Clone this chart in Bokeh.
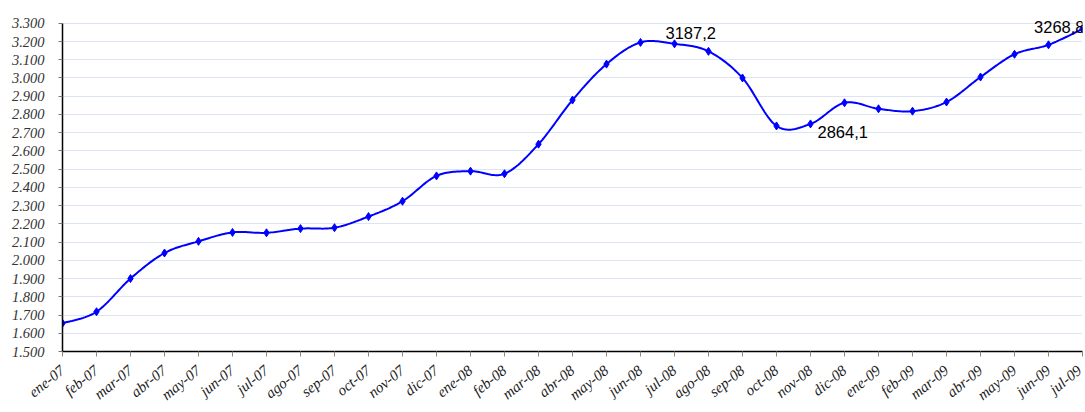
import numpy as np
from bokeh.plotting import figure
from bokeh.models import Range1d, FixedTicker, ColumnDataSource
from bokeh.core.properties import value
from bokeh.embed import file_html
from bokeh.resources import INLINE

months = ["ene-07", "feb-07", "mar-07", "abr-07", "may-07", "jun-07", "jul-07",
          "ago-07", "sep-07", "oct-07", "nov-07", "dic-07",
          "ene-08", "feb-08", "mar-08", "abr-08", "may-08", "jun-08", "jul-08",
          "ago-08", "sep-08", "oct-08", "nov-08", "dic-08",
          "ene-09", "feb-09", "mar-09", "abr-09", "may-09", "jun-09", "jul-09"]
values = [1655, 1718, 1900, 2040, 2104, 2153, 2151, 2174, 2179, 2240, 2324, 2463,
          2489, 2475, 2637, 2879, 3076, 3195, 3187.2, 3146, 3000, 2737, 2748, 2864.1,
          2831, 2818, 2868, 3005, 3130, 3182, 3268.8]
y_ticks = list(range(1500, 3301, 100))
y_tick_labels = ["1.500", "1.600", "1.700", "1.800", "1.900", "2.000", "2.100",
                 "2.200", "2.300", "2.400", "2.500", "2.600", "2.700", "2.800",
                 "2.900", "3.000", "3.100", "3.200", "3.300"]
label_idx = [18, 23, 30]
label_text = ["3187,2", "2864,1", "3268,8"]

xs = np.arange(len(values), dtype=float)
ys = np.array(values, dtype=float)

# Smoothed (Catmull-Rom / Bezier) curve through the data points
def smooth(x, y, n=20):
    px, py = [], []
    N = len(x)
    for i in range(N - 1):
        x0, y0 = (x[i - 1], y[i - 1]) if i > 0 else (x[i], y[i])
        x1, y1 = x[i], y[i]
        x2, y2 = x[i + 1], y[i + 1]
        x3, y3 = (x[i + 2], y[i + 2]) if i + 2 < N else (x[i + 1], y[i + 1])
        c1x, c1y = x1 + (x2 - x0) / 6, y1 + (y2 - y0) / 6
        c2x, c2y = x2 - (x3 - x1) / 6, y2 - (y3 - y1) / 6
        t = np.linspace(0, 1, n, endpoint=(i == N - 2))
        a = (1 - t) ** 3; b = 3 * (1 - t) ** 2 * t; c = 3 * (1 - t) * t ** 2; d = t ** 3
        px.extend(a * x1 + b * c1x + c * c2x + d * x2)
        py.extend(a * y1 + b * c1y + c * c2y + d * y2)
    return px, py

sx, sy = smooth(xs, ys)

# y range extends slightly above 3300 so the top data label is not clipped;
# the axis line itself is bounded to 1500..3300
p = figure(width=1084, height=412, output_backend="svg", toolbar_location=None,
           x_range=Range1d(0, 30), y_range=Range1d(1500, 3370),
           min_border_left=62, min_border_right=2, min_border_top=10, min_border_bottom=60)
p.outline_line_color = None
p.background_fill_color = "white"

p.line(sx, sy, line_color="#0000FF", line_width=2)
p.scatter(xs, ys, marker="diamond", size=8, fill_color="#0000FF", line_color="#0000FF")

lab_src = ColumnDataSource(dict(x=[xs[i] for i in label_idx], y=[ys[i] for i in label_idx],
                                t=label_text, xo=[-9, -27, 2], yo=[-11, 29, -2],
                                al=["left", "left", "right"]))
p.text(x="x", y="y", text="t", source=lab_src, x_offset="xo", y_offset="yo",
       text_align="al", text_baseline="alphabetic", text_font=value("Liberation Sans"),
       text_font_size="16.5px", text_color="black")

# axes
p.xaxis.ticker = FixedTicker(ticks=list(range(len(months))))
p.xaxis.major_label_overrides = {i: m for i, m in enumerate(months)}
p.xaxis.major_label_orientation = 0.68
p.xaxis.major_label_text_font = "Liberation Serif"
p.xaxis.major_label_text_font_style = "italic"
p.xaxis.major_label_text_font_size = "15px"
p.xaxis.major_label_text_color = "#1a1a1a"
p.xaxis.major_tick_in = 0
p.xaxis.major_tick_out = 5
p.xaxis.minor_tick_line_color = None
p.xaxis.axis_line_color = "black"
p.xaxis.axis_line_width = 1.5
p.xaxis.major_tick_line_color = "#888888"
p.xaxis.major_label_standoff = 12

p.yaxis.ticker = FixedTicker(ticks=y_ticks)
p.yaxis.bounds = (1500, 3300)
p.yaxis.major_label_overrides = dict(zip(y_ticks, y_tick_labels))
p.yaxis.major_label_text_font = "Liberation Serif"
p.yaxis.major_label_text_font_style = "italic"
p.yaxis.major_label_text_font_size = "14.5px"
p.yaxis.major_label_text_color = "#333333"
p.yaxis.major_tick_in = 0
p.yaxis.major_tick_out = 4
p.yaxis.major_tick_line_color = "#777777"
p.yaxis.minor_tick_line_color = None
p.yaxis.axis_line_color = "black"
p.yaxis.axis_line_width = 1.5
p.yaxis.major_label_standoff = 14

p.xgrid.grid_line_color = None
p.ygrid.ticker = FixedTicker(ticks=y_ticks)
p.ygrid.grid_line_color = "#b8c8e8"
p.ygrid.grid_line_dash = "1 1"
p.ygrid.grid_line_width = 1

open("out.html", "w").write(file_html(p, INLINE))
